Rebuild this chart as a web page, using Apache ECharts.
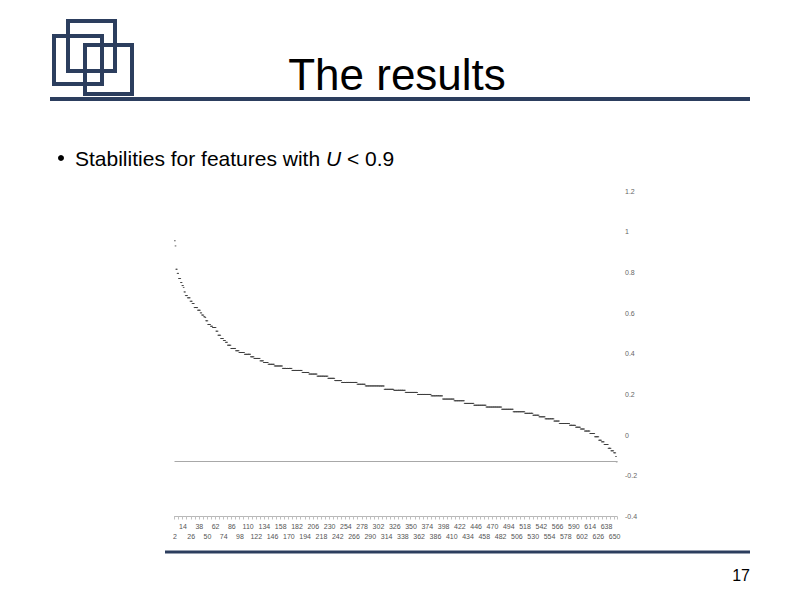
<!DOCTYPE html>
<html>
<head>
<meta charset="utf-8">
<script src="https://cdn.jsdelivr.net/npm/echarts@6/dist/echarts.min.js"></script>
<style>
html,body{margin:0;padding:0;background:#fff;}
#chart{width:794px;height:595px;}
</style>
</head>
<body>
<div id="chart"></div>
<script>
// Stability levels (sorted, descending), as runs of equal values
const levels = [0.955,0.93,0.815,0.795,0.77,0.75,0.735,0.726,0.704,0.686,
  0.675,0.658,0.647,0.627,0.614,0.601,0.59,0.582,0.578,0.562,
  0.544,0.535,0.529,0.511,0.491,0.475,0.465,0.456,0.442,0.426,
  0.415,0.406,0.397,0.385,0.377,0.365,0.357,0.348,0.340,0.328,
  0.318,0.308,0.300,0.290,0.279,0.268,0.259,0.250,0.242,0.225,
  0.220,0.210,0.200,0.193,0.177,0.169,0.156,0.147,0.138,0.127,
  0.115,0.107,0.098,0.090,0.080,0.069,0.057,0.048,0.039,0.030,
  0.020,0.008,-0.008,-0.025,-0.033,-0.046,-0.065,-0.077,-0.087,-0.105,-0.131];
const counts = [1,1,2,2,3,2,2,1,2,3,
  4,3,3,5,4,2,3,2,1,3,
  4,3,5,3,4,4,3,3,5,7,
  5,8,9,5,9,5,7,9,12,14,
  15,10,12,16,10,10,23,12,28,14,
  17,18,20,17,17,15,14,18,23,17,
  17,12,9,9,13,8,15,9,7,6,
  8,7,6,4,4,6,4,4,3,1,1];
const firstCategory = 2;
const labelStep = 12;
const refLines = [-0.13];
const yTicks = {min: -0.4, max: 1.2, interval: 0.2};

const values = [];
levels.forEach((v, i) => { for (let k = 0; k < counts[i]; k++) values.push(v); });
const categories = values.map((_, i) => String(firstCategory + i));

const navy = '#2c3e5e';
const labelBase = {fontSize: 7, color: '#555', hideOverlap: false};
const chart = echarts.init(document.getElementById('chart'), null, {renderer: 'svg'});
chart.setOption({
  backgroundColor: '#fff',
  animation: false,
  textStyle: {fontFamily: 'Liberation Sans, Arial, sans-serif'},
  grid: {left: 174.5, right: 177, top: 191, bottom: 78.5, containLabel: false},
  xAxis: [{
    type: 'category',
    data: categories,
    boundaryGap: true,
    position: 'bottom',
    axisLine: {show: true, onZero: false, lineStyle: {color: '#b8b8b8', width: 1}},
    axisTick: {show: true, interval: 5, length: 3, lineStyle: {color: '#c0c0c0'}},
    axisLabel: Object.assign({}, labelBase, {
      margin: 6,
      interval: (idx) => idx % (2 * labelStep) === labelStep
    }),
    splitLine: {show: false}
  }, {
    type: 'category',
    data: categories,
    boundaryGap: true,
    position: 'bottom',
    axisLine: {show: false, onZero: false},
    axisTick: {show: false},
    axisLabel: Object.assign({}, labelBase, {
      margin: 16,
      interval: (idx) => idx % (2 * labelStep) === 0
    }),
    splitLine: {show: false}
  }],
  yAxis: {
    type: 'value',
    position: 'right',
    min: yTicks.min, max: yTicks.max, interval: yTicks.interval,
    axisLine: {show: false},
    axisTick: {show: false},
    splitLine: {show: false},
    axisLabel: {fontSize: 7, color: '#666', align: 'left', margin: 8}
  },
  series: [{
    type: 'scatter',
    xAxisIndex: 0,
    data: values,
    symbol: 'rect',
    symbolSize: [1.6, 1],
    itemStyle: {color: '#333'},
    markLine: {
      silent: true, symbol: 'none', label: {show: false},
      lineStyle: {color: '#a8a8a8', width: 1, type: 'solid'},
      data: refLines.map(v => ({yAxis: v}))
    }
  }],
  graphic: [
    {type: 'rect', shape: {x: 68, y: 21, width: 47, height: 50}, style: {fill: 'none', stroke: navy, lineWidth: 4}},
    {type: 'rect', shape: {x: 54, y: 36, width: 48, height: 48}, style: {fill: 'none', stroke: navy, lineWidth: 4}},
    {type: 'rect', shape: {x: 85, y: 45, width: 47, height: 49}, style: {fill: 'none', stroke: navy, lineWidth: 4}},
    {type: 'line', shape: {x1: 50, y1: 99, x2: 750, y2: 99}, style: {stroke: navy, lineWidth: 4}},
    {type: 'line', shape: {x1: 165, y1: 552, x2: 750, y2: 552}, style: {stroke: navy, lineWidth: 3}},
    {type: 'text', x: 397, y: 74, style: {text: 'The results', fontSize: 44, fill: '#000', align: 'center', verticalAlign: 'middle', fontFamily: 'Liberation Sans, Arial, sans-serif'}},
    {type: 'circle', shape: {cx: 61, cy: 158, r: 3}, style: {fill: '#000'}},
    {type: 'text', x: 75, y: 158, style: {
      text: '{n|Stabilities for features with }{i|U}{n| < 0.9}',
      verticalAlign: 'middle', align: 'left',
      rich: {
        n: {fontSize: 21, fill: '#000', fontFamily: 'Liberation Sans, Arial, sans-serif'},
        i: {fontSize: 21, fill: '#000', fontStyle: 'italic', fontFamily: 'Liberation Sans, Arial, sans-serif'}
      }
    }},
    {type: 'text', x: 750, y: 575, style: {text: '17', fontSize: 16, fill: '#000', align: 'right', verticalAlign: 'middle', fontFamily: 'Liberation Sans, Arial, sans-serif'}}
  ]
});
</script>
</body>
</html>
